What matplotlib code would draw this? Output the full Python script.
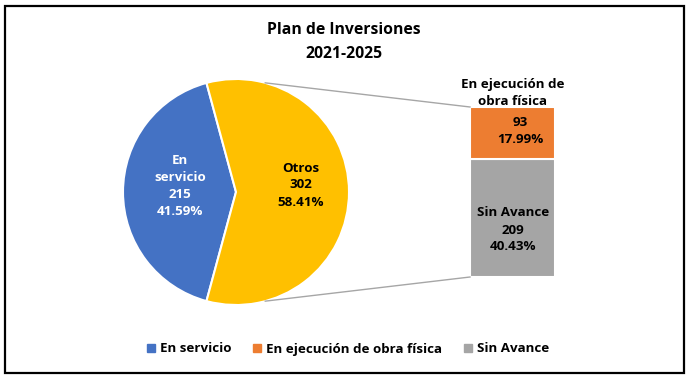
import numpy as np
import matplotlib
matplotlib.use('Agg')
import matplotlib.pyplot as plt
from matplotlib.patches import Patch, Rectangle

plt.rcParams['font.family'] = ['Open Sans', 'DejaVu Sans']
plt.rcParams['font.weight'] = 'bold'

title = 'Plan de Inversiones\n2021-2025'
pie_labels = ['En\nservicio', 'Otros']
pie_values = [215, 302]
pie_pcts = ['41.59%', '58.41%']
bar_labels = ['En ejecución de obra física', 'Sin Avance']
bar_values = [93, 209]
bar_pcts = ['17.99%', '40.43%']

BLUE = '#4472C4'
YELLOW = '#FFC000'
ORANGE = '#ED7D31'
GRAY = '#A5A5A5'

W, H = 686, 378


def Y(y):
    # pixel row -> data y (axes spans the whole figure)
    return H - y


fig = plt.figure(figsize=(W / 100, H / 100), dpi=100)
ax = fig.add_axes([0, 0, 1, 1])

# pie, "Otros" centred on the right side
cx, cy, r = 236, Y(192), 113
frac = pie_values[0] / sum(pie_values)
start = 180 - 360 * frac / 2
ax.pie(pie_values, colors=[BLUE, YELLOW], startangle=start, center=(cx, cy), radius=r,
       wedgeprops=dict(edgecolor='white', linewidth=1.5))

# stacked bar for the split slice
bx, bw = 512.5, 85
scale = 170 / sum(bar_values)
gray_h = bar_values[1] * scale
orange_h = bar_values[0] * scale
bbot = Y(277)
ax.bar(bx, gray_h, width=bw, bottom=bbot, color=GRAY, edgecolor='white', linewidth=1.5)
ax.bar(bx, orange_h, width=bw, bottom=bbot + gray_h, color=ORANGE, edgecolor='white', linewidth=1.5)

# connector lines
ang = np.deg2rad(75)
btop = bbot + gray_h + orange_h
ax.plot([cx + r * np.cos(ang), bx - bw / 2], [cy + r * np.sin(ang), btop], color='#A6A6A6', lw=1)
ax.plot([cx + r * np.cos(ang), bx - bw / 2], [cy - r * np.sin(ang), bbot], color='#A6A6A6', lw=1)

fs = 9.6
ls = 1.4
ax.text(180, Y(186), f'{pie_labels[0]}\n{pie_values[0]}\n{pie_pcts[0]}', color='white',
        ha='center', va='center', fontsize=fs, linespacing=ls)
ax.text(301, Y(185), f'{pie_labels[1]}\n{pie_values[1]}\n{pie_pcts[1]}', color='black',
        ha='center', va='center', fontsize=fs, linespacing=ls)
ax.text(513, Y(93), 'En ejecución de\nobra física', ha='center', va='center',
        fontsize=fs, linespacing=ls)
ax.text(520, Y(131), f'{bar_values[0]}\n{bar_pcts[0]}', ha='center', va='center',
        fontsize=fs, linespacing=ls)
ax.text(513, Y(230), f'{bar_labels[1]}\n{bar_values[1]}\n{bar_pcts[1]}', ha='center',
        va='center', fontsize=fs, linespacing=ls)

ax.text(344, Y(42), title, ha='center', va='center', fontsize=11.3, linespacing=1.6)

handles = [Patch(color=BLUE, label='En servicio'),
           Patch(color=ORANGE, label=bar_labels[0]),
           Patch(color=GRAY, label=bar_labels[1])]
fig.legend(handles=handles, loc='center', bbox_to_anchor=(348 / W, 1 - 349 / H), ncol=3,
           frameon=False, fontsize=fs, handlelength=0.6, handleheight=0.6,
           handletextpad=0.4, columnspacing=1.6)

ax.add_patch(Rectangle((5, Y(373)), 679, 367, fill=False, edgecolor='black', lw=1.6,
                       clip_on=False))

ax.set_xlim(0, W)
ax.set_ylim(0, H)
ax.set_aspect('auto')
ax.axis('off')

fig.savefig('out.png', dpi=100, facecolor='white')
